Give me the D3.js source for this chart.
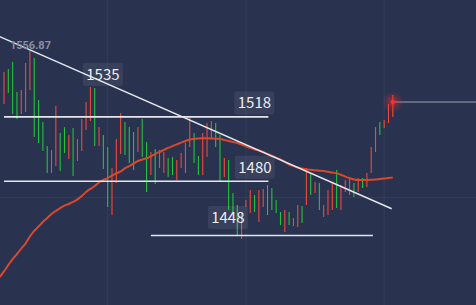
<!DOCTYPE html>
<html>
<head>
<meta charset="utf-8">
<script src="https://cdn.jsdelivr.net/npm/d3@7"></script>
<style>
  body { margin: 0; background: #29324f; }
  svg { display: block; }
</style>
</head>
<body>
<svg id="chart"></svg>
<script>
// --------------------- data ---------------------------

// candle highs / lows, one per bar (index 0..90)
const highs = [
  1544.5, 1546.3, 1550.4, 1532.7, 1533.9, 1549.8, 1556.87, 1552.8, 1528.0, 1515.0,
  1500.8, 1498.5, 1524.4, 1508.5, 1512.0, 1507.3, 1511.5, 1505.0, 1516.8, 1526.8,
  1535.7, 1535.1, 1512.0, 1507.3, 1500.2, 1487.8, 1505.0, 1520.3, 1515.0, 1512.0,
  1509.1, 1512.0, 1516.8, 1503.2, 1497.3, 1499.1, 1498.5, 1497.3, 1493.8, 1494.3,
  1492.6, 1496.7, 1502.6, 1517.9, 1508.5, 1494.9, 1508.5, 1514.4, 1515.6, 1514.4,
  1507.3, 1493.8, 1492.6, 1473.1, 1466.0, 1461.9, 1469.0, 1474.9, 1471.9, 1474.9,
  1475.5, 1477.8, 1476.0, 1469.0, 1461.9, 1463.1, 1461.9, 1458.3, 1466.0, 1465.4,
  1487.8, 1484.9, 1479.6, 1479.0, 1466.0, 1474.9, 1479.0, 1486.7, 1477.8, 1480.8,
  1481.9, 1479.0, 1481.9, 1481.9, 1484.9, 1500.2, 1512.0, 1515.0, 1516.2, 1525.6,
  1530.9
];
const lows = [
  1525.6, 1532.1, 1519.7, 1516.8, 1519.7, 1520.9, 1533.9, 1506.1, 1502.6, 1497.9,
  1484.9, 1484.9, 1489.0, 1486.1, 1496.7, 1493.2, 1483.1, 1492.0, 1497.9, 1510.3,
  1515.6, 1500.8, 1500.8, 1487.3, 1464.8, 1460.1, 1479.0, 1496.1, 1495.5, 1490.8,
  1486.7, 1497.3, 1494.3, 1473.7, 1483.7, 1478.4, 1487.8, 1484.9, 1482.5, 1483.7,
  1480.8, 1487.8, 1484.9, 1500.2, 1490.8, 1483.7, 1483.7, 1494.3, 1505.6, 1500.2,
  1479.6, 1482.5, 1463.1, 1461.3, 1448.3, 1445.9, 1464.8, 1461.3, 1461.9, 1456.0,
  1464.8, 1460.1, 1463.1, 1461.3, 1454.2, 1450.1, 1454.2, 1453.6, 1453.0, 1455.4,
  1466.0, 1471.9, 1473.1, 1463.1, 1458.9, 1460.1, 1463.1, 1464.2, 1463.1, 1473.7,
  1471.9, 1470.7, 1473.7, 1476.0, 1476.6, 1484.9, 1497.3, 1507.3, 1511.5, 1514.4,
  1517.9
];
// r = rising bar (red), g = falling bar (green)
const dirs = "rgggrrrggggrrggrgrrrrgrggrrrgggrggrgrrggrrrrggrrrggrgggrrrgrrggggrgrrgrgrgrrrgrrrgrgrrrgrrr";

// moving average: first value is the bar just left of the view (index -1)
const ma = [
  1423.5,
  1426.8, 1430.6, 1434.1, 1437.1, 1440.3, 1443.3, 1447.4, 1450.7, 1453.3, 1456.0,
  1458.3, 1460.7, 1462.5, 1464.2, 1465.7, 1466.6, 1467.8, 1469.3, 1471.3, 1473.7,
  1475.5, 1477.2, 1479.3, 1480.8, 1481.9, 1483.4, 1484.6, 1485.8, 1487.6, 1489.0,
  1490.5, 1492.0, 1492.9, 1493.6, 1494.8, 1496.1, 1497.3, 1498.5, 1499.7, 1500.8,
  1501.8, 1502.8, 1503.8, 1504.7, 1505.0, 1505.3, 1505.4, 1505.4, 1505.3, 1505.1,
  1505.0, 1504.4, 1503.8, 1503.2, 1502.6, 1501.7, 1500.7, 1499.7, 1498.8, 1498.2,
  1497.3, 1496.1, 1495.1, 1494.0, 1492.9, 1491.4, 1489.9, 1489.0, 1488.1, 1487.6,
  1487.1, 1486.8, 1486.5, 1486.3, 1486.1, 1485.6, 1485.2, 1484.7, 1483.9, 1482.8,
  1481.9, 1481.1, 1480.8, 1480.8, 1480.8, 1480.9, 1481.1, 1481.4, 1481.6, 1481.9,
  1482.2
];

const lastPrice = 1526.8;
const maxLabel = "1556.87";

// drawn levels: price, first bar, last bar
const levelPrices = [1518, 1480, 1448];
const levelFrom = [0, 0, 34];
const levelTo = [61.2, 61.2, 85.4];
const levelLabels = ["1518", "1480", "1448"];

// trend line: bar index and price at both ends
const trendIdx = [-1, 89.75];
const trendPrice = [1565.4, 1463.8];

// the loose "1535" tag
const tagText = "1535";

// grid positions
const gridBars = [24, 56, 88];
const gridPrices = [1470.5];

// --------------------- setup ---------------------------

const width = 476;
const height = 305;

const svg = d3.select("#chart")
  .attr("width", width)
  .attr("height", height);

const xScale = d3.scaleLinear().domain([0, 90]).range([4, 392.8]);
const yScale = d3.scaleLinear().domain([1407, 1587]).range([height, 0]);

svg.append("rect")
  .attr("width", width)
  .attr("height", height)
  .attr("fill", "#29324f");

// glow for the last price dot
const defs = svg.append("defs");
const glow = defs.append("radialGradient").attr("id", "glow");
glow.append("stop").attr("offset", "0%").attr("stop-color", "#ff2a2a").attr("stop-opacity", 0.75);
glow.append("stop").attr("offset", "45%").attr("stop-color", "#e03030").attr("stop-opacity", 0.3);
glow.append("stop").attr("offset", "100%").attr("stop-color", "#e03030").attr("stop-opacity", 0);

// --------------------- grid ---------------------------

svg.append("g")
  .selectAll("line")
  .data(gridBars)
  .join("line")
  .attr("x1", d => xScale(d)).attr("x2", d => xScale(d))
  .attr("y1", 0).attr("y2", height)
  .attr("stroke", "#343d5a")
  .attr("stroke-width", 1);

svg.append("g")
  .selectAll("line")
  .data(gridPrices)
  .join("line")
  .attr("x1", 0).attr("x2", width)
  .attr("y1", d => yScale(d)).attr("y2", d => yScale(d))
  .attr("stroke", "#343d5a")
  .attr("stroke-width", 1);

// --------------------- candles ---------------------------

const bars = d3.range(highs.length);

svg.append("g")
  .selectAll("line")
  .data(bars)
  .join("line")
  .attr("x1", i => xScale(i)).attr("x2", i => xScale(i))
  .attr("y1", i => yScale(highs[i]))
  .attr("y2", i => yScale(lows[i]))
  .attr("stroke", i => dirs[i] === "r" ? "#ef4a3b" : "#22c43a")
  .attr("stroke-width", 1.1);

// --------------------- moving average ---------------------------

const maLine = d3.line()
  .x((d, i) => xScale(i - 1))
  .y(d => yScale(d))
  .curve(d3.curveMonotoneX);

svg.append("path")
  .datum(ma)
  .attr("d", maLine)
  .attr("fill", "none")
  .attr("stroke", "#d9482c")
  .attr("stroke-width", 2);

// --------------------- drawn lines ---------------------------

svg.append("line")
  .attr("x1", xScale(trendIdx[0])).attr("y1", yScale(trendPrice[0]))
  .attr("x2", xScale(trendIdx[1])).attr("y2", yScale(trendPrice[1]))
  .attr("stroke", "#e4e6ec")
  .attr("stroke-width", 1.4);

svg.append("g")
  .selectAll("line")
  .data(levelPrices)
  .join("line")
  .attr("x1", (d, i) => xScale(levelFrom[i]))
  .attr("x2", (d, i) => xScale(levelTo[i]))
  .attr("y1", d => yScale(d)).attr("y2", d => yScale(d))
  .attr("stroke", "#e4e6ec")
  .attr("stroke-width", 1.6);

// --------------------- tags ---------------------------

function tag(cx, cy, text) {
  const g = svg.append("g").attr("transform", "translate(" + cx + "," + cy + ")");
  g.append("rect")
    .attr("x", -20).attr("y", -11.5)
    .attr("width", 40).attr("height", 23)
    .attr("rx", 2)
    .attr("fill", "#ffffff")
    .attr("fill-opacity", 0.07);
  g.append("text")
    .attr("text-anchor", "middle")
    .attr("dy", "0.36em")
    .attr("fill", "#eceef3")
    .style("font-family", "'Noto Sans CJK SC', 'Noto Sans', sans-serif")
    .style("font-size", "15px")
    .text(text);
}

// level tags sit above / left of their line ends
tag(xScale(levelTo[0]) - 14, yScale(levelPrices[0]) - 14, levelLabels[0]);
tag(xScale(levelTo[1]) - 13.5, yScale(levelPrices[1]) - 14, levelLabels[1]);
tag(xScale(levelFrom[2]) + 77, yScale(levelPrices[2]) - 18, levelLabels[2]);
tag(xScale(22.9), yScale(+tagText) - 13.5, tagText);

// highest price
svg.append("text")
  .attr("x", xScale(6) - 20)
  .attr("y", yScale(highs[6]) - 2)
  .attr("fill", "#8a8fa1")
  .style("font-family", "Roboto, sans-serif")
  .style("font-size", "11px")
  .style("font-weight", "bold")
  .text(maxLabel);

// --------------------- last price ---------------------------

svg.append("line")
  .attr("x1", xScale(90)).attr("x2", width)
  .attr("y1", yScale(lastPrice)).attr("y2", yScale(lastPrice))
  .attr("stroke", "#9ca1b1")
  .attr("stroke-width", 1);

svg.append("circle")
  .attr("cx", xScale(90)).attr("cy", yScale(lastPrice))
  .attr("r", 11)
  .attr("fill", "url(#glow)");

svg.append("circle")
  .attr("cx", xScale(90)).attr("cy", yScale(lastPrice))
  .attr("r", 2)
  .attr("fill", "#ff2f2f");
</script>
</body>
</html>
